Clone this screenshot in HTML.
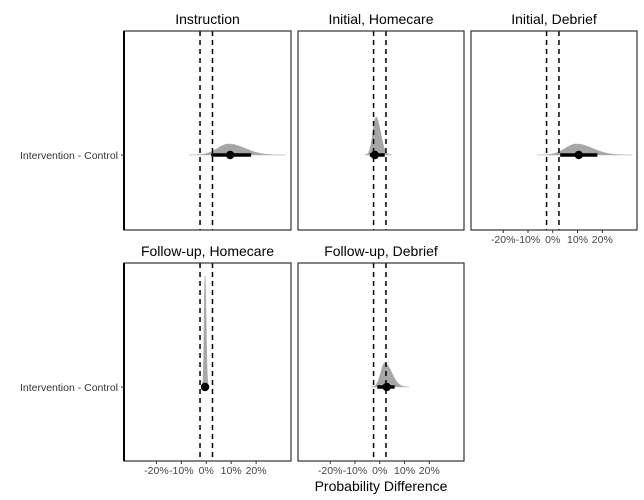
<!DOCTYPE html>
<html><head><meta charset="utf-8"><style>
body{margin:0;background:#fff;font-family:"Liberation Sans",sans-serif}
svg{display:block}
</style></head><body>
<svg id="c" width="644" height="500"></svg>
<script>
const panels=["Instruction","Initial, Homecare","Initial, Debrief","Follow-up, Homecare","Follow-up, Debrief"];
const medians=[9.6,-2,10.5,-0.5,2.8];
const lows=[2,-4,3,-1.5,-1];
const highs=[18,2,18,0.5,6];
const modes=[9,-1.5,9.5,-0.5,2];
const spreadL=[4.5,1.3,4.5,0.35,1.6];
const spreadR=[6.5,1.8,6.5,0.45,2.8];
const peaks=[11,38,11,111,24];
const ticks=[-20,-10,0,10,20];
const ropeLo=-2.5, ropeHi=2.5;
const xMin=-33, xMax=34;
const boxes=[[124,31,291,230],[298,31,464,230],[471,31,637,230],[124,263,291,461],[298,263,464,461]];
const svg=document.getElementById('c');
const NS='http://www.w3.org/2000/svg';
function mk(t,a,p){const e=document.createElementNS(NS,t);for(const k in a)e.setAttribute(k,a[k]);(p||svg).appendChild(e);return e;}
panels.forEach((name,i)=>{
  const [x0,y0,x1,y1]=boxes[i];
  const g=mk('g',{});
  
  
  const sx=v=>x0+(v-xMin)/(xMax-xMin)*(x1-x0);
  const yc=y0+124;
  const t=mk('text',{x:(x0+x1)/2,y:y0-7,'text-anchor':'middle','font-size':14,fill:'#000'},g);
  t.textContent=name;
  
  
  const a=modes[i]-spreadL[i]*3.5, bnd=modes[i]+spreadR[i]*3.5;
  let d='M'+sx(a)+','+yc;
  for(let k=0;k<=200;k++){
    const v=a+k*(bnd-a)/200;
    const s=v<modes[i]?spreadL[i]:spreadR[i];
    const z=(v-modes[i])/s;
    const dens=Math.exp(-0.5*z*z);
    d+=' L'+sx(v).toFixed(2)+','+(yc-peaks[i]*dens).toFixed(2);
  }
  d+=' Z';
  const p=mk('path',{d:d,fill:'#a6a6a6',stroke:'#b0b0b0','stroke-width':0.6},g);
  
  
  [ropeLo,ropeHi].forEach(r=>{
    const l=mk('line',{x1:sx(r),x2:sx(r),y1:y0,y2:y1,stroke:'#000','stroke-width':1.5,'stroke-dasharray':'5,4'},g);
    
    
  });
  const iv=mk('line',{x1:sx(lows[i]),x2:sx(highs[i]),y1:yc,y2:yc,stroke:'#000','stroke-width':3.5},g);
  
  
  const pt=mk('circle',{cx:sx(medians[i]),cy:yc,r:4.2,fill:'#000'},g);
  
  
  const b=mk('rect',{x:x0,y:y0,width:x1-x0,height:y1-y0,fill:'none',stroke:'#333','stroke-width':1.2},g);
  
  
  if(i===0||i===3){
    mk('line',{x1:x0,x2:x0,y1:y0,y2:y1,stroke:'#000','stroke-width':2},g);
    mk('line',{x1:x0-3,x2:x0,y1:yc,y2:yc,stroke:'#333'},g);
    const yl=mk('text',{x:x0-6,y:yc+4,'text-anchor':'end','font-size':10.5,fill:'#333'},g);
    yl.textContent='Intervention - Control';
    
    
  }
  if(i>=2){
    ticks.forEach(tv=>{
      mk('line',{x1:sx(tv),x2:sx(tv),y1:y1,y2:y1+3,stroke:'#333'},g);
      const tl=mk('text',{x:sx(tv),y:y1+13,'text-anchor':'middle','font-size':10.5,fill:'#444'},g);
      tl.textContent=tv+'%';
      
      
    });
  }
});
const xt=mk('text',{x:381,y:491,'text-anchor':'middle','font-size':14,fill:'#000'});
xt.textContent='Probability Difference';


</script>
</body></html>
